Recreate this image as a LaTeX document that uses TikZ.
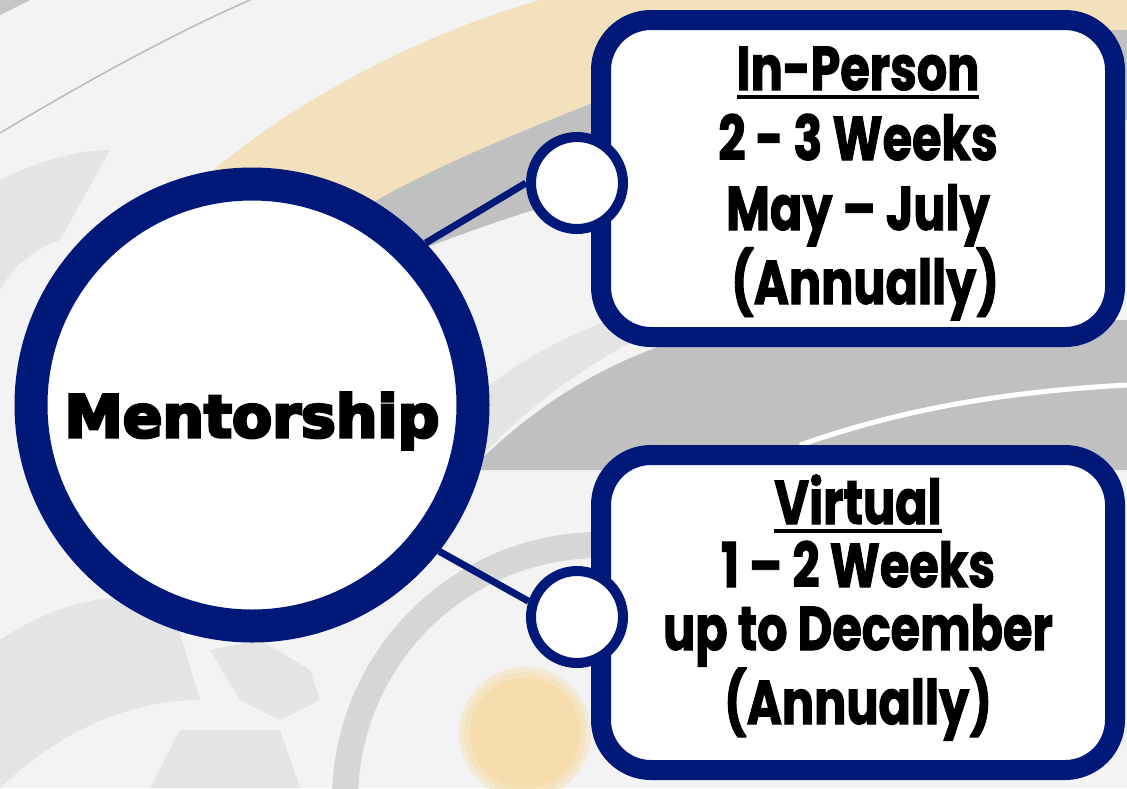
\documentclass[tikz,border=0pt]{standalone}
\usepackage{fontspec}
\newfontfamily\mentfont{DejaVu Sans}[UprightFont=* Bold, FakeBold=5]
\newfontfamily\boxfont{Poppins}[UprightFont=* Bold, FakeStretch=0.77, FakeBold=1.5]
\definecolor{navy}{RGB}{0,25,120}
\definecolor{bgbase}{RGB}{243,243,243}
\definecolor{beige}{RGB}{243,224,188}
\definecolor{gearA}{RGB}{192,192,192}
\definecolor{gearB}{RGB}{214,214,214}
\definecolor{gearC}{RGB}{228,228,228}
\definecolor{orangeblob}{RGB}{246,220,172}
\pgfdeclarelayer{bgimg}
\pgfdeclarelayer{wires}
\pgfsetlayers{bgimg,wires,main}
\newcommand{\ulbar}[1]{\setbox0=\hbox{#1}\rlap{\rule[-9pt]{\wd0}{4pt}}\box0}
\tikzset{
  bigring/.style={circle, draw=navy, fill=white, line width=33pt, minimum size=442pt, inner sep=0pt},
  smallring/.style={circle, draw=navy, fill=white, line width=10pt, minimum size=92pt, inner sep=0pt},
  infobox/.style={rectangle, rounded corners=50pt, draw=navy, fill=white, line width=20pt,
    minimum width=514pt, inner sep=0pt},
  boxtext/.style={align=center, inner sep=0pt},
  wire/.style={draw=navy, line width=7pt},
  menttext/.style={font=\mentfont\fontsize{58.5}{58.5}\selectfont, inner sep=0pt},
}
\begin{document}
\begin{tikzpicture}[x=1pt,y=-1pt]
\useasboundingbox (0,0) rectangle (1127,788);
\begin{pgfonlayer}{bgimg}
  \fill[bgbase] (0,0) rectangle (1127,788);
  % beige band
  \fill[beige] (175,205) .. controls (260,120) and (400,40) .. (540,0) -- (1127,0) -- (1127,40)
     .. controls (900,40) and (650,80) .. (600,100) .. controls (500,140) and (400,180) .. (330,230) -- cycle;
  % grey band below beige
  \fill[gearA] (330,230) .. controls (400,180) and (500,140) .. (600,100)
     .. controls (800,40) and (1000,30) .. (1127,30) -- (1127,120)
     .. controls (900,120) and (650,160) .. (420,250) -- cycle;
  % grey area between boxes
  \fill[gearA] (470,470) .. controls (560,380) and (650,340) .. (760,320) -- (1127,320) -- (1127,470) -- cycle;
  \fill[gearC] (400,470) .. controls (470,390) and (540,340) .. (640,310) -- (700,310)
     .. controls (600,350) and (520,410) .. (470,470) -- cycle;
  \draw[white, line width=5pt] (800,445) .. controls (900,410) and (1000,392) .. (1127,385);
  % thin line top-left
  \draw[gray!55, line width=1.5pt] (0,133) .. controls (80,85) and (170,35) .. (250,0);
  \fill[gray!45] (0,0) -- (30,0) -- (0,15) -- cycle;
  % left arcs
  \fill[gearC] (0,180) .. controls (40,160) and (80,150) .. (110,150) -- (60,240) .. controls (30,250) and (10,270) .. (0,290) -- cycle;
  % bottom-left gear
  \fill[gearC] (0,640) .. controls (60,600) and (120,590) .. (170,600) -- (200,700) .. controls (120,700) and (50,740) .. (0,788) -- cycle;
  \fill[gearC] (210,650) -- (260,640) -- (310,670) -- (320,700) -- (280,720) -- (240,700) -- cycle;
  \fill[gearC] (180,730) -- (280,730) -- (300,788) -- (150,788) -- cycle;
  % bottom ring
  \draw[gearB, line width=26pt] (600,800) ++(180:255) arc[start angle=180, end angle=282, radius=255];
  % orange blob
  \fill[orangeblob!45!bgbase] (525,733) circle[radius=66pt];
  \fill[orangeblob!75!bgbase] (525,733) circle[radius=61pt];
  \fill[orangeblob] (525,733) circle[radius=55pt];
\end{pgfonlayer}

% centre circle
\node[bigring] (ment) at (252,405) {};
\node[menttext, yshift=-16pt] (mtext) at (ment.center) {Mentorship};

% boxes
\node[infobox, minimum height=317pt] (inperson) at (858,178.5) {};
\node[boxtext, font=\boxfont\fontsize{62}{70}\selectfont, yshift=-5pt]
  (inpersontext) at (inperson.center)
  {\ulbar{In-Person}\\2 - 3 Weeks\\May – July\\\hphantom{i}(Annually)};
\node[infobox, minimum height=315pt] (virtual) at (858,612.5) {};
\node[boxtext, font=\boxfont\fontsize{62}{63}\selectfont, yshift=5pt]
  (virtualtext) at (virtual.center)
  {\ulbar{Virtual}\\1 – 2 Weeks\\up to December\\(Annually)};

% small connector circles
\node[smallring] (c1) at (577,183) {};
\node[smallring] (c2) at (577,617) {};

\begin{pgfonlayer}{wires}
  \draw[wire] (ment.43.5) -- (c1.west);
  \draw[wire] (ment.-38) -- (c2.162);
\end{pgfonlayer}
\end{tikzpicture}
\end{document}
